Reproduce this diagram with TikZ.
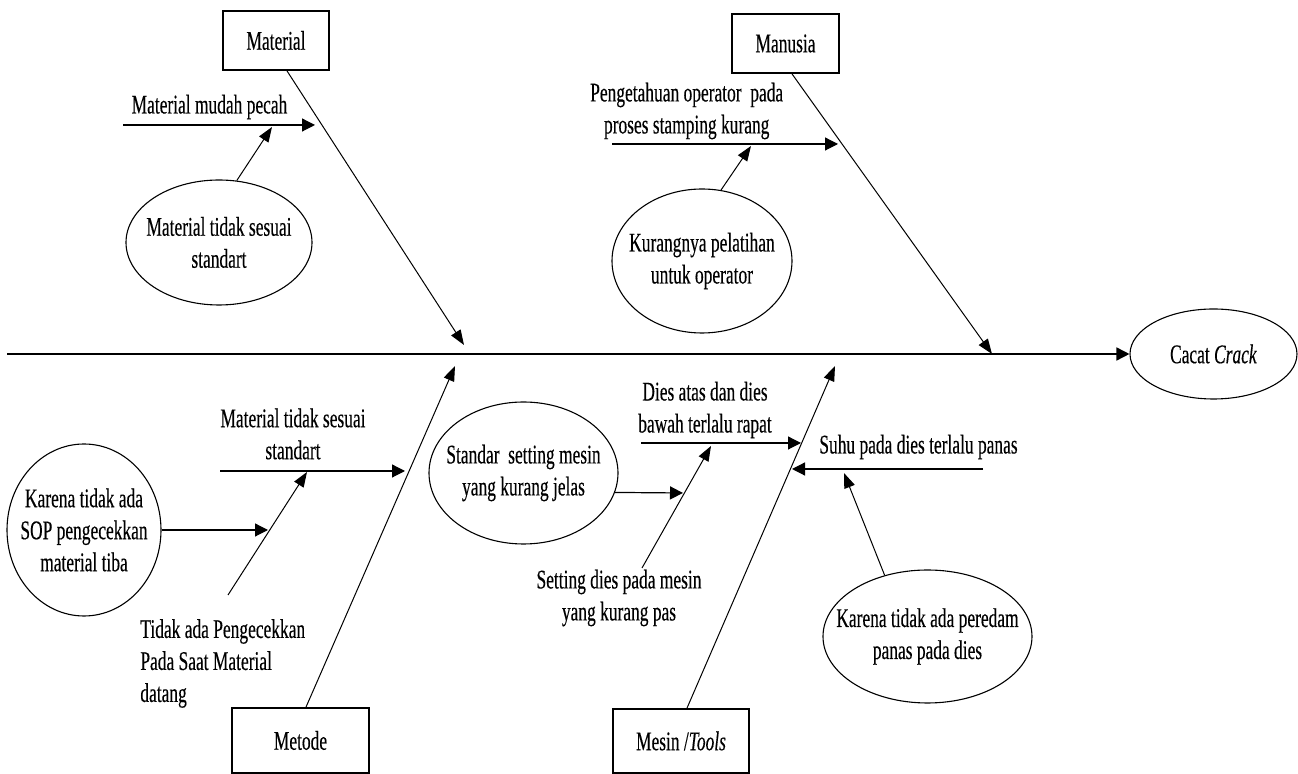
\documentclass[tikz,border=0pt]{standalone}
\usepackage{fontspec}
\setmainfont[FakeStretch=0.645,FakeBold=0.3]{Liberation Serif}
\usetikzlibrary{arrows.meta,shapes.geometric}

\begin{document}
\begin{tikzpicture}[x=0.5pt,y=-0.5pt,
  every node/.style={font=\fontsize{13.5}{16}\selectfont},
  lbl/.style={inner sep=0pt, align=center},
  catbox/.style={draw, rectangle, inner sep=0pt, line width=0.9pt},
  bubble/.style={draw, ellipse, inner sep=0pt, line width=0.55pt},
  bone/.style={line width=0.5pt, -{Triangle[length=7.5pt,width=5.5pt]}},
  twig/.style={line width=0.6pt, -{Triangle[length=6.5pt,width=6.5pt]}},
  spine/.style={line width=0.8pt, -{Triangle[length=6.5pt,width=6.5pt]}}]
\useasboundingbox (0,0) rectangle (1298,774);

% category boxes and effect
\node[catbox, minimum width=53pt, minimum height=29.5pt] (material) at (276,40.5) {Material};
\node[catbox, minimum width=53.5pt, minimum height=29.5pt] (manusia) at (785.5,43.5) {Manusia};
\node[catbox, minimum width=68.5pt, minimum height=32.5pt] (metode) at (300.5,740.5) {Metode};
\node[catbox, minimum width=68pt, minimum height=32pt] (mesin) at (681,741) {Mesin /\textit{Tools}};
\node[bubble, minimum width=83.5pt, minimum height=45pt] (effect) at (1213.5,354) {Cacat \textit{Crack}};

% spine
\coordinate (tail) at (7,354);
\draw[spine] (tail) -- (effect.west);

% main bones
\coordinate (matTip) at (464,345);
\coordinate (manTip) at (992,354);
\coordinate (metTip) at (455,366);
\coordinate (mesTip) at (835,366);
\draw[bone] ([xshift=5.5pt]material.south) -- (matTip);
\draw[bone] ([xshift=3.25pt]manusia.south) -- (manTip);
\draw[bone] ([xshift=2.75pt]metode.north) -- (metTip);
\draw[bone] ([xshift=3pt]mesin.north) -- (mesTip);

% --- Material branch
\coordinate (m1s) at (123,125);
\coordinate (m1e) at (315,125);
\coordinate (m1t) at (272,127);
\node[lbl] (m1l) at (209.5,107) {Material mudah pecah};
\draw[twig] (m1s) -- (m1e);
\node[bubble, minimum width=93pt, minimum height=62.5pt] (e1) at (219,242.5) {};
\node[lbl] (e1t) at (e1) {Material tidak sesuai\\standart};
\draw[bone] (e1.74.5) -- (m1t);

% --- Manusia branch
\coordinate (h1s) at (612,144);
\coordinate (h1e) at (838,144);
\coordinate (h1t) at (751,146);
\node[lbl] (h1l) at (686.7,111) {Pengetahuan operator\ \ pada\\proses stamping kurang};
\draw[twig] (h1s) -- (h1e);
\node[bubble, minimum width=90pt, minimum height=72pt] (e2) at (702,261) {};
\node[lbl] (e2t) at (e2) {Kurangnya pelatihan\\untuk operator};
\draw[bone] (e2.75) -- (h1t);

% --- Metode branch
\coordinate (d1s) at (220,471);
\coordinate (d1e) at (405,471);
\node[lbl] (d1l) at (293,434) {Material tidak sesuai\\standart};
\draw[twig] (d1s) -- (d1e);
\coordinate (d2s) at (228,595);
\coordinate (d2e) at (307,472);
\draw[bone] (d2s) -- (d2e);
\node[lbl, align=left, anchor=west] (d2l) at (140,663.5) {Tidak ada Pengecekkan\\Pada Saat Material\\datang};
\node[bubble, minimum width=77pt, minimum height=86pt] (e3) at (84,530) {};
\node[lbl] (e3t) at (e3) {Karena tidak ada\\SOP pengecekkan\\material tiba};
\coordinate (d3t) at (268,530);
\draw[twig] (e3.east) -- (d3t);

% --- Mesin / Tools branch
\coordinate (t1s) at (641,443);
\coordinate (t1e) at (801,443);
\node[lbl] (t1l) at (705,410) {Dies atas dan dies\\bawah terlalu rapat};
\draw[twig] (t1s) -- (t1e);
\coordinate (t2s) at (642,568);
\coordinate (t2e) at (711,446);
\draw[bone] (t2s) -- (t2e);
\node[lbl] (t2l) at (619,598) {Setting dies pada mesin\\yang kurang pas};
\node[bubble, minimum width=94.5pt, minimum height=71pt] (e4) at (523.5,473) {};
\node[lbl] (e4t) at (e4) {Standar\ \ setting mesin\\yang kurang jelas};
\coordinate (t3t) at (683,493);
\draw[twig] (e4.-12.3) -- (t3t);

\coordinate (t4s) at (983,469);
\coordinate (t4e) at (792,469);
\node[lbl] (t4l) at (918.5,447) {Suhu pada dies terlalu panas};
\draw[twig] (t4s) -- (t4e);
\node[bubble, minimum width=104.5pt, minimum height=66.5pt] (e5) at (927.5,636.5) {};
\node[lbl] (e5t) at (e5) {Karena tidak ada peredam\\panas pada dies};
\coordinate (t5t) at (844,473);
\draw[bone] (e5.125.4) -- (t5t);
\end{tikzpicture}
\end{document}
